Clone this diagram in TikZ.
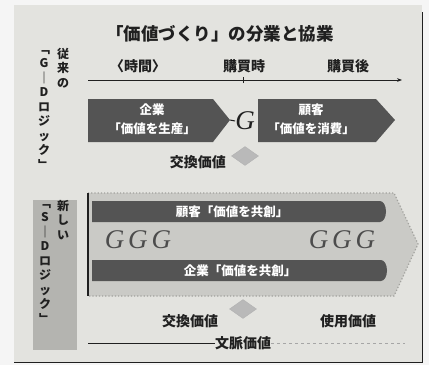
\documentclass[tikz,border=0pt]{standalone}
\usepackage{fontspec}
\setmainfont{Noto Sans CJK JP}
\newfontfamily\latinit{Liberation Serif}
\usetikzlibrary{shapes.geometric,arrows.meta,patterns}
\definecolor{bgpaper}{HTML}{E3E3DF}
\definecolor{darkbar}{HTML}{545454}
\definecolor{bigfill}{HTML}{CACAC6}
\definecolor{colfill}{HTML}{B4B4B0}
\definecolor{inkc}{HTML}{202020}
\tikzset{
  lbl/.style={inner sep=0pt, text=inkc, font=\fontsize{14}{15}\selectfont\bfseries},
  wlbl/.style={inner sep=0pt, text=white, font=\fontsize{12.5}{19}\selectfont\bfseries, align=center},
  vlbl/.style={inner sep=0pt, text=inkc, font=\fontsize{12}{14.5}\selectfont\bfseries, align=center, anchor=north},
  gsym/.style={inner sep=0pt, text=inkc, font=\latinit\itshape\fontsize{27}{27}\selectfont},
  dia/.style={diamond, draw=gray!60, fill=gray!55, minimum width=27pt, minimum height=19pt, inner sep=0pt},
  axis/.style={draw=inkc, line width=1pt}
}
\begin{document}
\begin{tikzpicture}[x=1pt,y=-1pt]
\useasboundingbox (0,0) rectangle (429,365);
\fill[white!96!black] (0,0) rectangle (429,365);
\fill[bgpaper] (14,5) rectangle (422,362);
\draw[inkc, line width=1pt] (422,12) -- (422,362) -- (14,362);

% title
\node[inner sep=0pt, text=inkc, font=\fontsize{17.5}{18}\selectfont\bfseries] (title) at (220,34) {「価値づくり」の分業と協業};

% left vertical labels (upper)
\node[vlbl] (oldA) at (63,48) {従\\来\\の};
\node[vlbl] (oldB) at (44,50) {﹁\\G\\｜\\D\\ロ\\ジ\\ッ\\ク\\﹂};

% time axis
\coordinate (axL) at (88,80);
\coordinate (axR) at (402,80);
\draw[axis, -{Stealth[length=5pt]}] (axL) -- (axR);
\coordinate (tick) at (243,80);
\draw[axis] ([yshift=-3pt]tick) -- ([yshift=3pt]tick);
\node[lbl] (t1) at (138,66) {〈時間〉};
\node[lbl] (t2) at (244,66) {購買時};
\node[lbl] (t3) at (348,66) {購買後};

% upper row
\fill[darkbar] (88,99) -- (213,99) -- (230,120) -- (213,142) -- (88,142) -- cycle;
\fill[darkbar] (258,99) -- (376,99) -- (395,120) -- (376,142) -- (258,142) -- cycle;
\coordinate (tipA) at (230,120);
\node[wlbl] (firmA) at (152,119) {企業\\「価値を生産」};
\node[wlbl] (custA) at (311,119) {顧客\\「価値を消費」};
\node[gsym] (gA) at (245,121) {G};
\draw[inkc, line width=1pt] (tipA) -- (gA.west);
\node[dia] (dA) at (245,156) {};
\node[lbl, anchor=east] (exA) at (226,162) {交換価値};

% lower left column
\fill[colfill] (33,200) rectangle (77,350);
\node[vlbl] (newA) at (63,200) {新\\し\\い};
\node[vlbl] (newB) at (45,204) {﹁\\S\\｜\\D\\ロ\\ジ\\ッ\\ク\\﹂};

% big arrow
\draw[bigfill!80!black, fill=bigfill, dotted, line width=1.2pt] (88,193) -- (394,193) -- (418,244) -- (394,296) -- (88,296) -- cycle;
\draw[inkc, line width=1.3pt] (88,193) -- (88,296);
\fill[darkbar] (92,201) -- (380,201) arc[start angle=-90, end angle=90, x radius=6pt, y radius=-10.5pt] -- (92,222) -- cycle;
\fill[darkbar] (92,260) -- (381,260) arc[start angle=-90, end angle=90, x radius=6pt, y radius=-10.5pt] -- (92,281) -- cycle;
\node[wlbl] (custB) at (232,211.5) {顧客「価値を共創」};
\node[wlbl] (firmB) at (240,270.5) {企業「価値を共創」};
\node[gsym, text=inkc!80] (gL) at (138,240) {G\kern4pt G\kern4pt G};
\node[gsym, text=inkc!80] (gR) at (342,240) {G\kern4pt G\kern4pt G};

% bottom labels
\node[dia] (dB) at (243,309) {};
\node[lbl] (exB) at (190,321) {交換価値};
\node[lbl] (useB) at (348,321) {使用価値};
\node[lbl] (ctx) at (243,343) {文脈価値};
\coordinate (ctxL) at (88,343);
\coordinate (ctxR) at (405,343);
\draw[inkc, line width=1pt] (ctxL) -- (ctx.west);
\draw[gray!70, line width=1pt, dashed] (ctx.east) -- (ctxR);
\end{tikzpicture}
\end{document}
